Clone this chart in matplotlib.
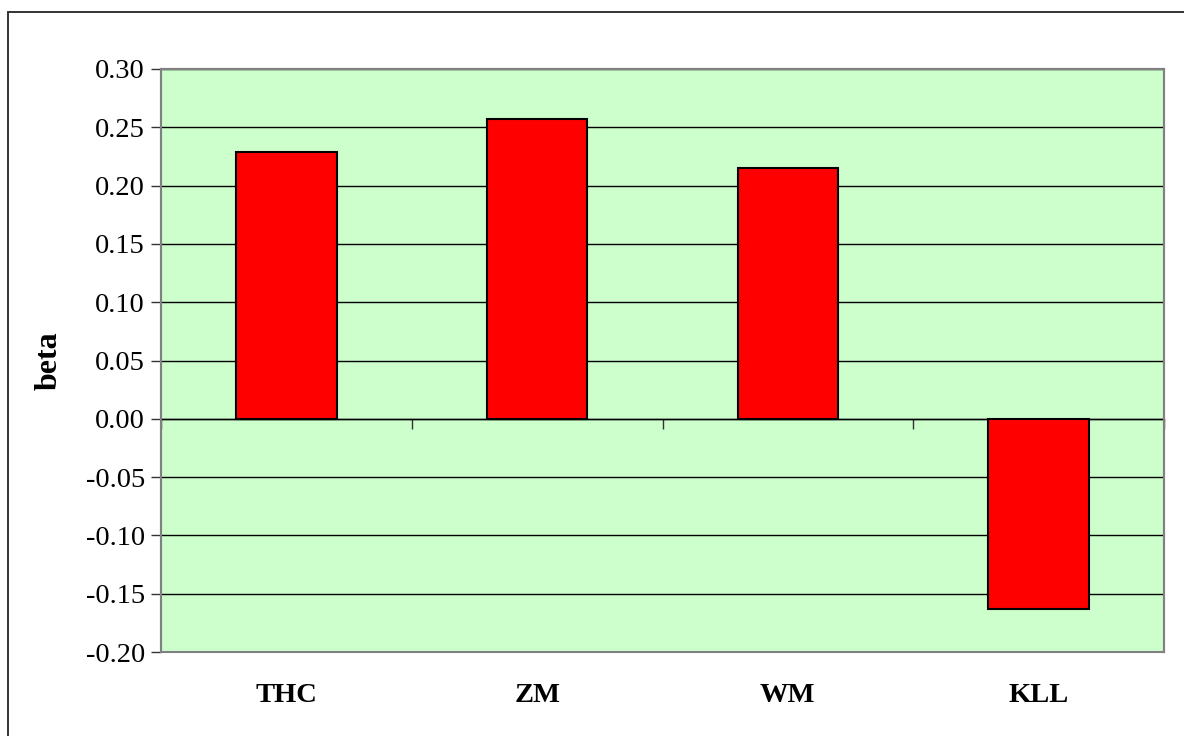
import numpy as np
import matplotlib.pyplot as plt
from matplotlib.patches import Rectangle

categories = ['THC', 'ZM', 'WM', 'KLL']
beta = [0.229, 0.257, 0.215, -0.163]
yticks = [-0.20, -0.15, -0.10, -0.05, 0.00, 0.05, 0.10, 0.15, 0.20, 0.25, 0.30]

plt.rcParams['font.family'] = ['Liberation Serif', 'DejaVu Serif']

fig = plt.figure(figsize=(11.84, 7.36), dpi=100)
# outer chart border (right and bottom edges fall outside the picture)
fig.patches.append(Rectangle((8 / 1184, -0.05), 1.1, 1 - 12 / 736 + 0.05,
                             transform=fig.transFigure, fill=False,
                             edgecolor='#333333', linewidth=1.4, clip_on=False))

ax = fig.add_axes([161 / 1184, 1 - 652 / 736, 1003 / 1184, 583 / 736])
ax.set_facecolor('#CCFFCC')

x = np.arange(len(categories))
ax.bar(x, beta, width=0.4, color='#FF0000', edgecolor='black', linewidth=1.5, zorder=3)

ax.set_xlim(-0.5, len(categories) - 0.5)
ax.set_ylim(-0.20, 0.30)
ax.set_yticks(yticks)
ax.set_yticklabels(['%.2f' % v for v in yticks], fontsize=20.5)
ax.yaxis.grid(True, color='black', linewidth=1.0, zorder=1)
ax.set_axisbelow(True)
ax.tick_params(axis='y', direction='out', length=7.5, width=1, color='#333333', pad=4)

# zero axis line with ticks between categories
ax.spines['bottom'].set_position(('data', 0))
ax.spines['bottom'].set_color('black')
ax.spines['bottom'].set_linewidth(1.0)
ax.set_xticks(np.arange(len(categories) + 1) - 0.5)
ax.set_xticklabels([])
ax.tick_params(axis='x', direction='out', length=7.5, width=1, color='#333333')

for s in ['top', 'right', 'left']:
    ax.spines[s].set_color('#808080')
    ax.spines[s].set_linewidth(1.5)
ax.add_patch(Rectangle((0, 0), 1, 1, transform=ax.transAxes, fill=False,
                       edgecolor='#808080', linewidth=1.5, zorder=4, clip_on=False))

for i, c in enumerate(categories):
    ax.text(i, -0.075, c, transform=ax.get_xaxis_transform(), ha='center', va='center',
            fontsize=20.5, fontweight='bold')

ax.set_ylabel('beta', fontsize=23, fontweight='bold', labelpad=16)

fig.savefig('out.png', dpi=100)
